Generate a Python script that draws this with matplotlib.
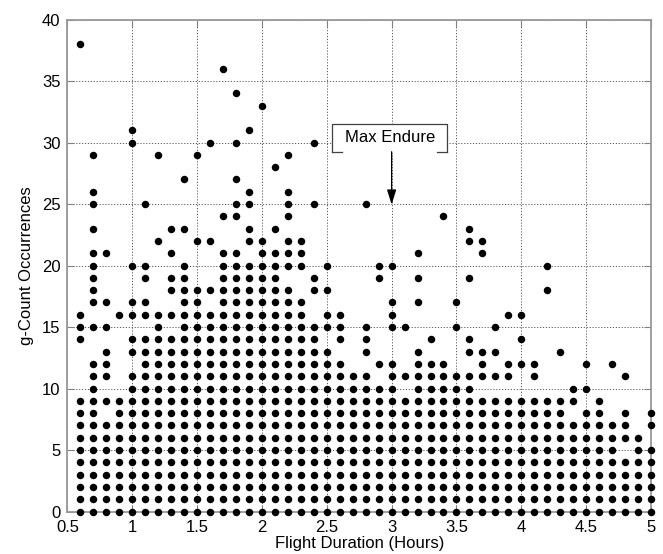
import matplotlib
matplotlib.use("Agg")
import matplotlib.pyplot as plt

plt.rcParams['font.family'] = ['Liberation Sans', 'DejaVu Sans']

# Flight duration in tenths of hours for each g-count occurrence level
counts = [0, 1, 2, 3, 4, 5, 6, 7, 8, 9, 10, 11, 12, 13, 14, 15, 16, 17, 18, 19,
          20, 21, 22, 23, 24, 25, 26, 27, 28, 29, 30, 31, 33, 34, 36, 38]

all_cols = [6, 7, 8, 9, 10, 11, 12, 13, 14, 15, 16, 17, 18, 19, 20, 21, 22, 23, 24, 25,
            26, 27, 28, 29, 30, 31, 32, 33, 34, 35, 36, 37, 38, 39, 40, 41, 42, 43, 44, 45,
            46, 47, 48, 49, 50]
row5 = [6, 7, 8, 9, 10, 11, 12, 13, 14, 15, 16, 17, 18, 19, 20, 21, 22, 23, 24, 25,
        26, 27, 28, 29, 30, 31, 32, 33, 34, 35, 36, 37, 38, 39, 40, 41, 42, 43, 44, 45,
        46, 47, 49, 50]
row6 = [6, 7, 8, 9, 10, 11, 12, 13, 14, 15, 16, 17, 18, 19, 20, 21, 22, 23, 24, 25,
        26, 27, 28, 29, 30, 31, 32, 33, 34, 35, 36, 37, 38, 39, 40, 41, 42, 43, 44, 45,
        46, 47, 48, 49]
row7 = [6, 7, 8, 9, 10, 11, 12, 13, 14, 15, 16, 17, 18, 19, 20, 21, 22, 23, 24, 25,
        26, 27, 28, 29, 30, 31, 32, 33, 34, 35, 36, 37, 38, 39, 40, 41, 42, 43, 44, 45,
        46, 47, 48, 50]
row8 = [6, 7, 9, 10, 11, 12, 13, 14, 15, 16, 17, 18, 19, 20, 21, 22, 23, 24, 25,
        26, 27, 28, 29, 30, 31, 32, 33, 34, 35, 36, 37, 38, 39, 40, 41, 42, 43, 45,
        46, 48, 50]
row9 = [6, 7, 8, 9, 10, 11, 12, 13, 14, 15, 16, 17, 18, 19, 20, 21, 22, 23, 24, 25,
        26, 27, 28, 29, 30, 31, 32, 33, 34, 35, 36, 37, 38, 39, 40, 41, 42, 43, 44, 46]
row10 = [7, 10, 11, 12, 13, 14, 15, 16, 17, 18, 19, 20, 21, 22, 23, 24, 25, 26, 27, 28,
         29, 30, 32, 33, 34, 35, 36, 44, 45]
row11 = [7, 8, 10, 11, 12, 13, 14, 15, 16, 17, 18, 19, 20, 21, 22, 23, 24, 25, 26, 27,
         28, 30, 31, 32, 33, 34, 35, 36, 37, 38, 39, 41, 48]
row12 = [7, 8, 11, 12, 13, 14, 15, 16, 17, 18, 19, 20, 21, 22, 23, 24, 25, 26, 29, 30,
         32, 33, 34, 37, 39, 40, 41, 45, 47]
row13 = [8, 10, 11, 12, 13, 14, 15, 16, 17, 18, 19, 20, 21, 22, 23, 24, 25, 28, 32, 36,
         37, 38, 43]
row14 = [6, 10, 11, 12, 13, 14, 15, 16, 17, 18, 19, 20, 21, 22, 23, 24, 26, 28, 33, 36, 40]
row15 = [6, 7, 8, 12, 14, 15, 16, 17, 18, 19, 20, 21, 22, 23, 24, 25, 26, 28, 30, 31, 35, 38]
row16 = [6, 9, 10, 11, 12, 13, 14, 15, 16, 17, 18, 19, 20, 21, 22, 23, 25, 26, 30, 39, 40]
row17 = [7, 8, 10, 11, 14, 15, 17, 18, 19, 20, 21, 22, 23, 30, 32, 35]
row18 = [7, 13, 14, 15, 16, 17, 18, 19, 20, 21, 22, 24, 25, 42]
row19 = [7, 11, 13, 14, 17, 18, 19, 20, 21, 24, 29, 32, 36]
row20 = [7, 10, 11, 14, 17, 18, 19, 20, 21, 22, 23, 25, 29, 30, 42]
row21 = [7, 8, 13, 17, 18, 20, 21, 22, 23, 32, 37]
row22 = [12, 15, 16, 19, 20, 22, 23, 36, 37]
row23 = [7, 13, 14, 19, 21, 36]
row24 = [17, 18, 22, 34]
row25 = [7, 11, 18, 19, 22, 24, 28]
row26 = [7, 19, 22]
row27 = [14, 18]
row28 = [21]
row29 = [7, 12, 15, 22]
row30 = [10, 16, 18, 24]
row31 = [10, 19]
row33 = [20]
row34 = [18]
row36 = [17]
row38 = [6]

durations_by_count = [all_cols, all_cols, all_cols, all_cols, all_cols, row5, row6, row7,
                      row8, row9, row10, row11, row12, row13, row14, row15, row16, row17,
                      row18, row19, row20, row21, row22, row23, row24, row25, row26, row27,
                      row28, row29, row30, row31, row33, row34, row36, row38]

x_ticks = [0.5, 1, 1.5, 2, 2.5, 3, 3.5, 4, 4.5, 5]
x_ticklabels = ['0.5', '1', '1.5', '2', '2.5', '3', '3.5', '4', '4.5', '5']
y_ticks = [0, 5, 10, 15, 20, 25, 30, 35, 40]

xs, ys = [], []
for c, row in zip(counts, durations_by_count):
    for t in row:
        xs.append(t / 10.0)
        ys.append(c)

fig = plt.figure(figsize=(6.63, 5.54), dpi=100)
ax = fig.add_axes([0.1018, 0.0767, 0.8800, 0.8881])

ax.set_xlim(0.5, 5)
ax.set_ylim(0, 40)
ax.set_xticks(x_ticks)
ax.set_xticklabels(x_ticklabels)
ax.set_yticks(y_ticks)
ax.grid(True, linestyle=(0, (1.2, 1.8)), color='0.35', linewidth=0.7)
ax.set_axisbelow(True)

for s in ax.spines.values():
    s.set_color('0.6')
    s.set_linewidth(1.3)
ax.tick_params(direction='in', length=5, width=0.8, color='0.5', top=True, right=True,
               labelsize=12, labelcolor='black')
ax.tick_params(axis='x', pad=6)
ax.tick_params(axis='y', pad=5)

ax.scatter(xs, ys, s=29, color='black', zorder=5, clip_on=False, linewidths=0)

ax.set_xlabel('Flight Duration (Hours)', fontsize=12, labelpad=1)
ax.set_ylabel('g-Count Occurrences', fontsize=12, labelpad=6)

# Annotation box and arrow
bx0, bx1, by0, by1 = 2.54, 3.43, 29.25, 31.48
seg = 0.08
lkw = dict(color='0.25', linewidth=0.9, zorder=6, clip_on=False)
ax.fill([bx0, bx1, bx1, bx0], [by0, by0, by1, by1], color='white', zorder=5.5)
ax.plot([bx0, bx0, bx1, bx1], [by0, by1, by1, by0], **lkw)
ax.plot([bx0, bx0 + seg], [by0, by0], **lkw)
ax.plot([bx1 - seg, bx1], [by0, by0], **lkw)
ax.text(2.985, 30.4, 'Max Endure', ha='center', va='center', fontsize=12, zorder=7)
ax.annotate('', xy=(3.0, 24.95), xytext=(3.0, by0),
            arrowprops=dict(arrowstyle='-|>,head_length=0.9,head_width=0.28',
                            color='black', lw=0.9, shrinkA=0, shrinkB=0), zorder=7)

fig.savefig('out.png', dpi=100)
